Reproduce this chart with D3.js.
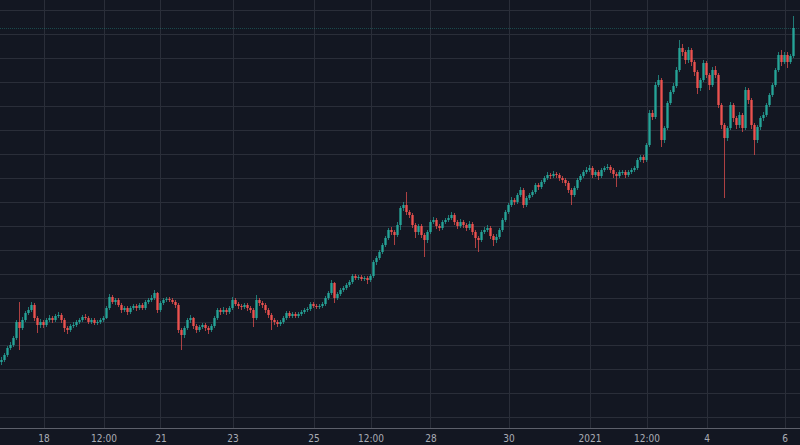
<!DOCTYPE html>
<html><head><meta charset="utf-8">
<script src="https://cdn.jsdelivr.net/npm/d3@7"></script>
<style>
html,body{margin:0;padding:0;background:#131722;overflow:hidden}
svg{display:block}
</style></head>
<body>
<svg id="chart" width="800" height="445"></svg>
<script>
// ---- data (candle index based, price units) ----
const closes = [68,73,80,83,90,106,100,108,115,118,
123,110,103,106,103,108,110,108,112,113,
108,100,98,102,103,106,108,111,110,106,
108,105,106,108,110,120,131,126,128,123,
118,120,116,120,122,120,123,120,126,128,
130,135,118,125,128,129,128,126,123,98,
93,100,108,110,102,98,101,103,100,98,
102,110,118,116,118,116,120,128,124,122,
121,123,120,118,110,128,125,123,118,113,
108,106,104,106,110,115,112,114,112,114,
116,118,119,124,122,121,122,124,130,135,
145,130,134,138,140,143,146,152,150,151,
149,150,148,152,166,170,176,183,190,198,
196,193,203,220,223,216,213,203,196,202,
193,188,196,206,208,202,200,206,208,210,
213,206,202,206,203,200,204,196,190,188,
196,198,200,192,188,191,198,208,216,223,
228,226,233,238,223,230,233,236,243,241,
246,250,253,252,254,253,250,248,245,238,
233,240,248,252,256,258,260,253,256,252,
258,260,261,258,254,252,256,256,253,256,
258,260,268,271,268,283,315,311,343,348,
288,300,325,336,342,358,380,376,368,378,
366,356,340,348,365,353,343,358,353,323,
303,290,300,323,310,303,313,300,338,328,
303,288,301,310,313,323,333,343,358,373,
366,373,366,372,400];

const opens = [66,68,73,80,83,90,106,100,108,115,
118,123,110,103,106,103,108,110,108,112,
113,108,100,98,102,103,106,108,111,110,
106,108,105,106,108,110,120,131,126,128,
123,118,120,116,120,122,120,123,120,126,
128,130,135,118,125,128,129,128,126,123,
98,93,100,108,110,102,98,101,103,100,
98,102,110,118,116,118,116,120,128,124,
122,121,123,120,118,110,128,125,123,118,
113,108,106,104,106,110,115,112,114,112,
114,116,118,119,124,122,121,122,124,130,
135,145,130,134,138,140,143,146,152,150,
151,149,150,148,152,166,170,176,183,190,
198,196,193,203,220,223,216,213,203,196,
202,193,188,196,206,208,202,200,206,208,
210,213,206,202,206,203,200,204,196,190,
188,196,198,200,192,188,191,198,208,216,
223,228,226,233,238,223,230,233,236,243,
241,246,250,253,252,254,253,250,248,245,
238,233,240,248,252,256,258,260,253,256,
252,258,260,261,258,254,252,256,256,253,
256,258,260,268,271,268,283,315,311,343,
348,288,300,325,336,342,358,380,376,368,
378,366,356,340,348,365,353,343,358,353,
323,303,290,300,323,310,303,313,300,338,
328,303,288,301,310,313,323,333,343,358,
373,366,373,366,372];

const highs = [71,75,82,86,92,108,126,111,117,121,
126,125,112,109,108,110,113,112,114,116,
115,110,102,104,106,108,110,113,114,112,
110,110,108,110,112,122,134,133,130,130,
125,122,122,122,124,124,125,125,128,130,
133,138,136,127,130,131,131,130,128,125,
100,102,110,113,111,104,103,105,105,102,
104,112,120,120,121,120,122,131,130,126,
124,125,125,122,120,133,130,127,125,120,
115,110,108,108,112,117,117,116,116,116,
118,120,121,126,126,124,124,126,132,137,
148,146,136,140,142,145,148,154,154,153,
153,152,152,154,168,172,178,185,192,200,
201,198,206,222,226,236,218,215,205,204,
204,195,198,208,211,210,204,208,210,213,
216,215,208,209,208,205,207,206,198,192,
198,201,203,202,194,194,200,210,218,225,
231,230,235,241,240,232,235,238,245,245,
248,252,256,255,257,256,255,252,250,247,
240,242,250,254,258,261,263,262,258,258,
260,262,264,263,260,256,258,258,258,258,
260,262,270,273,273,285,318,318,346,353,
350,302,327,338,345,361,388,384,378,381,
380,368,358,350,368,367,355,361,362,355,
325,305,302,326,325,312,316,315,341,340,
330,305,303,312,316,325,335,345,360,376,
378,376,376,374,412];

const lows = [63,66,71,78,81,88,78,98,106,113,
116,107,95,100,100,101,106,105,106,110,
105,96,94,96,100,101,104,106,108,104,
104,103,103,104,106,109,118,124,123,121,
115,116,113,114,118,117,118,118,118,124,
126,128,115,116,123,126,126,124,120,95,
78,90,98,105,99,95,96,99,97,94,
96,100,108,113,114,113,114,118,122,119,
118,119,117,115,101,108,122,120,115,110,
98,103,101,102,104,108,110,110,110,110,
112,114,116,117,120,119,119,120,122,128,
133,125,128,132,136,138,141,144,148,148,
147,147,144,146,150,163,168,174,181,188,
193,183,191,198,217,213,210,200,190,193,
190,171,185,194,204,199,197,198,204,206,
208,203,199,200,200,197,198,193,180,176,
186,194,196,189,182,185,189,196,206,214,
221,223,224,231,220,221,228,231,234,238,
239,244,248,249,250,250,247,245,242,235,
223,231,238,246,250,254,256,250,251,248,
250,256,258,255,250,241,250,253,250,251,
254,256,258,266,265,266,281,308,309,341,
281,285,298,323,334,340,356,372,364,365,
362,352,334,337,346,350,338,341,350,320,
299,230,287,298,306,299,300,296,298,324,
299,273,285,298,307,311,321,331,341,356,
362,364,360,364,370];

// x-axis tick labels and the candle index each belongs to
const tickLabels = ["18","12:00","21","23","25","12:00","28","30","2021","12:00","4","6"];
const tickIndex  = [14, 34, 53, 77, 104, 123, 143, 169, 196, 215, 235, 261];

// ---- layout ----
const W = 800, H = 445;
const plotBottom = 428;
const svg = d3.select("#chart");
svg.append("rect").attr("width", W).attr("height", H).attr("fill", "#131722");

const n = closes.length;
const x = d3.scaleLinear().domain([0, n - 1]).range([1.5, 793.5]);
const y = d3.scaleLinear().domain([0, 428]).range([plotBottom, 0]);

// horizontal grid (price levels)
const gridLevels = d3.range(18).map(k => 10.7 + 23.95 * k);
svg.append("g").selectAll("line").data(gridLevels).join("line")
  .attr("x1", 0).attr("x2", W)
  .attr("y1", d => Math.round(y(d)) + 0.5).attr("y2", d => Math.round(y(d)) + 0.5)
  .attr("stroke", "#2a2e39").attr("stroke-width", 1);

// vertical grid at tick positions
svg.append("g").selectAll("line").data(tickIndex).join("line")
  .attr("x1", d => Math.round(x(d)) + 0.5).attr("x2", d => Math.round(x(d)) + 0.5)
  .attr("y1", 0).attr("y2", plotBottom)
  .attr("stroke", "#2a2e39").attr("stroke-width", 1);

// candles
const up = "#26a69a", down = "#ef5350";
const idx = d3.range(n);
const g = svg.append("g");
g.selectAll("line.wick").data(idx).join("line")
  .attr("class", "wick")
  .attr("x1", i => x(i)).attr("x2", i => x(i))
  .attr("y1", i => y(highs[i])).attr("y2", i => y(lows[i]))
  .attr("stroke", i => closes[i] >= opens[i] ? up : down)
  .attr("stroke-opacity", 0.7)
  .attr("stroke-width", 1);
g.selectAll("rect.body").data(idx).join("rect")
  .attr("class", "body")
  .attr("x", i => x(i) - 1.2)
  .attr("width", 2.4)
  .attr("y", i => y(Math.max(opens[i], closes[i])))
  .attr("height", i => Math.max(1, Math.abs(y(opens[i]) - y(closes[i]))))
  .attr("fill", i => closes[i] >= opens[i] ? up : down)
  .attr("fill-opacity", 0.95);

// last price line (dotted)
const last = closes[n - 1];
svg.append("line")
  .attr("x1", 0).attr("x2", W)
  .attr("y1", Math.round(y(last)) + 0.5).attr("y2", Math.round(y(last)) + 0.5)
  .attr("stroke", up).attr("stroke-opacity", 0.35)
  .attr("stroke-dasharray", "1,1").attr("stroke-width", 1);

// x axis
const xAxis = d3.axisBottom(x)
  .tickValues(tickIndex)
  .tickFormat((d, i) => tickLabels[i])
  .tickSize(0).tickPadding(7);
const ax = svg.append("g").attr("transform", `translate(0,${plotBottom})`).call(xAxis);
ax.select(".domain").remove();
ax.selectAll("text")
  .attr("fill", "#a9acb5")
  .style("font-family", "'Liberation Sans Narrow','DejaVu Sans Condensed',sans-serif")
  .style("font-size", "10px");
svg.append("line").attr("x1", 0).attr("x2", W)
  .attr("y1", plotBottom + 0.5).attr("y2", plotBottom + 0.5)
  .attr("stroke", "#5d606b").attr("stroke-width", 1);
</script>
</body></html>
